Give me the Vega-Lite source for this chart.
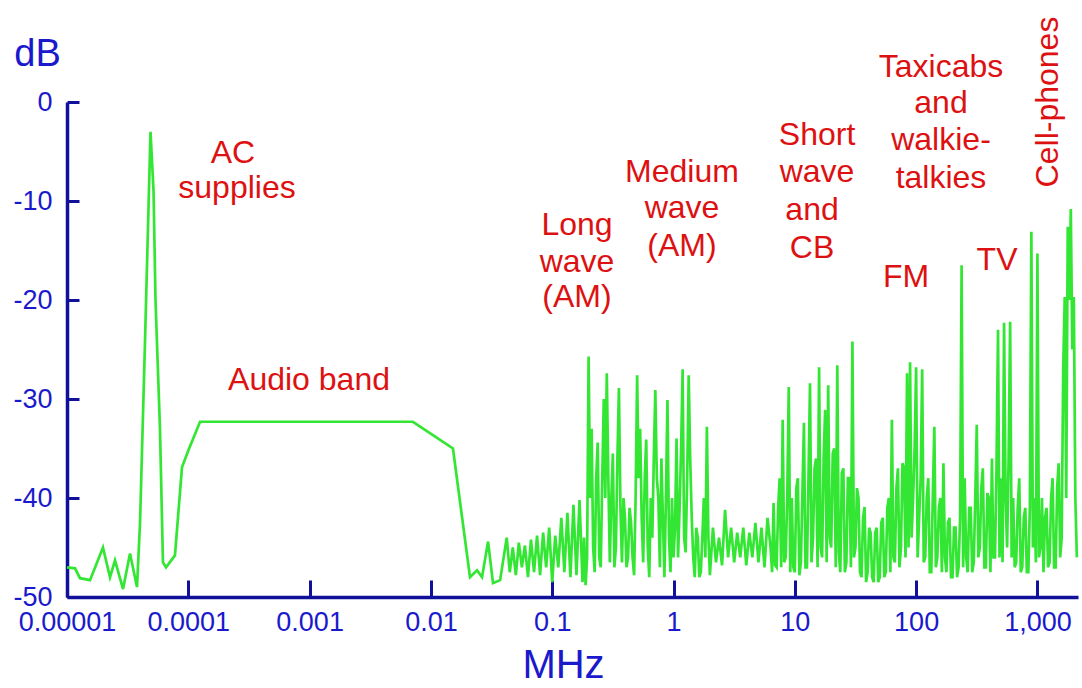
{
"$schema": "https://vega.github.io/schema/vega-lite/v6.json",
"width": 1011, "height": 495,
"autosize": "none",
"padding": {"left": 67, "top": 102, "right": 4, "bottom": 91},
"background": "white",
"config": {"view": {"stroke": null}, "font": "Liberation Sans"},
"datasets": {
"spec": [
{"f":0.00001,"db":-47},{"f":0.00001164,"db":-47.1},{"f":0.0000128,"db":-48.1},{"f":0.00001548,"db":-48.3},
{"f":0.0000198,"db":-45},{"f":0.00002262,"db":-48},{"f":0.00002488,"db":-46.3},{"f":0.00002897,"db":-49.2},
{"f":0.00003307,"db":-45.6},{"f":0.00003776,"db":-49},{"f":0.00004,"db":-42.5},{"f":0.000044,"db":-24},
{"f":0.0000488,"db":-3},{"f":0.0000517,"db":-9},{"f":0.00005365,"db":-20},{"f":0.0000584,"db":-33},
{"f":0.0000618,"db":-46.5},{"f":0.0000655,"db":-47},{"f":0.0000776,"db":-45.8},{"f":0.0000887,"db":-36.9},
{"f":0.0001,"db":-35.2},{"f":0.000125,"db":-32.3},{"f":0.00711,"db":-32.3},{"f":0.0152,"db":-35},
{"f":0.021,"db":-48},{"f":0.024,"db":-47.3},{"f":0.0264,"db":-48},{"f":0.0296,"db":-44.4},
{"f":0.0325,"db":-48.6},{"f":0.0372,"db":-48.3},
{"f":0.04217,"db":-44},{"f":0.04467,"db":-47.5},{"f":0.04732,"db":-45},{"f":0.05012,"db":-47.8},
{"f":0.05309,"db":-44.5},{"f":0.05623,"db":-47},{"f":0.05957,"db":-44.8},{"f":0.0631,"db":-48},
{"f":0.06683,"db":-44.2},{"f":0.07079,"db":-47.5},{"f":0.07499,"db":-43.8},{"f":0.07943,"db":-47.8},
{"f":0.08414,"db":-43.5},{"f":0.08913,"db":-47},{"f":0.09441,"db":-43},
{"f":0.1,"db":-48.5},{"f":0.1059,"db":-43.8},{"f":0.1122,"db":-47},{"f":0.1189,"db":-42},
{"f":0.1259,"db":-47.5},{"f":0.1334,"db":-41.5},{"f":0.1413,"db":-48},{"f":0.1496,"db":-40.7},
{"f":0.1585,"db":-47.8},{"f":0.1679,"db":-40.2},{"f":0.1778,"db":-48.5},{"f":0.183,"db":-44},{"f":0.1884,"db":-48.8},{"f":0.1939,"db":-46},
{"f":0.1995,"db":-25.7},{"f":0.2054,"db":-40},{"f":0.2113,"db":-33},{"f":0.2175,"db":-45},{"f":0.2239,"db":-47.5},{"f":0.2304,"db":-38},{"f":0.2371,"db":-34.4},{"f":0.2441,"db":-46},
{"f":0.2512,"db":-47},{"f":0.2586,"db":-38},{"f":0.2661,"db":-30},{"f":0.2738,"db":-40},{"f":0.2818,"db":-27.4},{"f":0.2901,"db":-38},{"f":0.2985,"db":-46.5},{"f":0.3073,"db":-40},
{"f":0.3162,"db":-35.5},{"f":0.3255,"db":-47},{"f":0.335,"db":-45},{"f":0.3447,"db":-36},{"f":0.3548,"db":-28.9},{"f":0.3652,"db":-41},{"f":0.3758,"db":-46.5},{"f":0.3868,"db":-40},
{"f":0.3981,"db":-42},{"f":0.4097,"db":-47},{"f":0.4217,"db":-46},{"f":0.434,"db":-41},{"f":0.4467,"db":-42.5},{"f":0.4597,"db":-46},{"f":0.4732,"db":-47.8},{"f":0.487,"db":-40},
{"f":0.5012,"db":-27.6},{"f":0.5158,"db":-38},{"f":0.5309,"db":-33},{"f":0.5464,"db":-42},{"f":0.5623,"db":-46.5},{"f":0.5788,"db":-38},{"f":0.5957,"db":-34.1},{"f":0.6131,"db":-45},
{"f":0.631,"db":-48},{"f":0.6494,"db":-40},{"f":0.6683,"db":-44},{"f":0.6879,"db":-36},{"f":0.7079,"db":-29.1},{"f":0.7286,"db":-38},{"f":0.7499,"db":-40},{"f":0.7718,"db":-47},
{"f":0.7943,"db":-36},{"f":0.8175,"db":-42},{"f":0.8414,"db":-48},{"f":0.866,"db":-40},{"f":0.8913,"db":-30.1},{"f":0.9173,"db":-44},{"f":0.9441,"db":-47.5},{"f":0.9716,"db":-40},
{"f":1,"db":-46},{"f":1.029,"db":-43},{"f":1.059,"db":-34},{"f":1.09,"db":-46},{"f":1.122,"db":-41},{"f":1.155,"db":-35},{"f":1.189,"db":-27},{"f":1.223,"db":-44},
{"f":1.259,"db":-45.5},{"f":1.296,"db":-38},{"f":1.334,"db":-27.6},{"f":1.372,"db":-36},{"f":1.413,"db":-42},{"f":1.454,"db":-46},{"f":1.496,"db":-48},{"f":1.54,"db":-43},
{"f":1.585,"db":-44},{"f":1.631,"db":-48},{"f":1.679,"db":-47.5},{"f":1.728,"db":-44},{"f":1.778,"db":-40},{"f":1.83,"db":-46},{"f":1.884,"db":-32.8},{"f":1.939,"db":-44},
{"f":1.995,"db":-47.8},{"f":2.113,"db":-43},{"f":2.239,"db":-46.5},{"f":2.371,"db":-44},
{"f":2.512,"db":-46.8},{"f":2.661,"db":-41.2},{"f":2.818,"db":-46},{"f":2.985,"db":-43},
{"f":3.162,"db":-46.5},{"f":3.35,"db":-43.5},{"f":3.548,"db":-46},{"f":3.758,"db":-43},
{"f":3.981,"db":-46.8},{"f":4.217,"db":-43.5},{"f":4.467,"db":-46},{"f":4.732,"db":-42.5},
{"f":5.012,"db":-46.5},{"f":5.309,"db":-43},{"f":5.623,"db":-47},{"f":5.957,"db":-42},
{"f":6.31,"db":-45},{"f":6.494,"db":-47.5},{"f":6.683,"db":-40.5},{"f":6.879,"db":-46.8},{"f":7.079,"db":-47},{"f":7.286,"db":-41},{"f":7.499,"db":-38},{"f":7.718,"db":-47},
{"f":7.943,"db":-32.1},{"f":8.175,"db":-46.5},{"f":8.414,"db":-46},{"f":8.66,"db":-40},{"f":8.913,"db":-28.8},{"f":9.173,"db":-47.5},{"f":9.441,"db":-40},{"f":9.716,"db":-47},
{"f":10,"db":-47.5},{"f":10.29,"db":-39},{"f":10.59,"db":-38},{"f":10.9,"db":-47.8},{"f":11.22,"db":-46.5},{"f":11.55,"db":-39.5},{"f":11.89,"db":-32.4},{"f":12.23,"db":-47},
{"f":12.59,"db":-47},{"f":12.96,"db":-38},{"f":13.34,"db":-28.4},{"f":13.72,"db":-46.5},{"f":14.13,"db":-44},{"f":14.54,"db":-37},{"f":14.96,"db":-36},{"f":15.4,"db":-47},
{"f":15.85,"db":-26.8},{"f":16.31,"db":-45},{"f":16.79,"db":-46},{"f":17.28,"db":-36},{"f":17.78,"db":-31.1},{"f":18.3,"db":-46.5},{"f":18.84,"db":-28.6},{"f":19.39,"db":-44},
{"f":19.95,"db":-45},{"f":20.54,"db":-35.5},{"f":21.13,"db":-35},{"f":21.75,"db":-47},{"f":22.39,"db":-26.6},{"f":23.04,"db":-45.5},{"f":23.71,"db":-47.5},{"f":24.41,"db":-37.5},
{"f":25.12,"db":-37},{"f":25.86,"db":-47.5},{"f":26.61,"db":-46.5},{"f":27.38,"db":-38},{"f":28.18,"db":-38},{"f":29.01,"db":-47},{"f":29.85,"db":-24.2},{"f":30.73,"db":-46},
{"f":31.62,"db":-45},{"f":32.55,"db":-39},{"f":33.5,"db":-40},{"f":34.47,"db":-47.5},{"f":35.48,"db":-48},{"f":36.52,"db":-42},{"f":37.58,"db":-40.9},{"f":38.68,"db":-48.5},
{"f":39.81,"db":-47.5},{"f":40.97,"db":-43},{"f":42.17,"db":-43.5},{"f":43.4,"db":-48},{"f":44.67,"db":-48.5},{"f":45.97,"db":-43.5},{"f":47.32,"db":-43},{"f":48.7,"db":-48.5},
{"f":50.12,"db":-48},{"f":51.58,"db":-42.5},{"f":53.09,"db":-42},{"f":54.64,"db":-48},{"f":56.23,"db":-47.5},{"f":57.88,"db":-41},{"f":59.57,"db":-40},{"f":61.31,"db":-47.5},
{"f":63.1,"db":-32.1},{"f":64.94,"db":-46},{"f":66.83,"db":-46.5},{"f":68.79,"db":-39},{"f":70.79,"db":-37},{"f":72.86,"db":-47},{"f":74.99,"db":-45},{"f":77.18,"db":-36.5},
{"f":79.43,"db":-36.9},{"f":81.75,"db":-46},{"f":84.14,"db":-27.4},{"f":86.6,"db":-45},{"f":89.13,"db":-26.3},{"f":91.73,"db":-44},{"f":94.41,"db":-40},{"f":97.16,"db":-35},
{"f":100,"db":-26.8},{"f":102.9,"db":-46},{"f":105.9,"db":-42},{"f":109,"db":-38},{"f":112.2,"db":-27},{"f":115.5,"db":-46.5},{"f":118.9,"db":-46},{"f":122.3,"db":-40},
{"f":125.9,"db":-38},{"f":129.6,"db":-47.5},{"f":133.4,"db":-47.5},{"f":137.2,"db":-40},{"f":141.3,"db":-32.8},{"f":145.4,"db":-47},{"f":149.6,"db":-46},{"f":154,"db":-41},
{"f":158.5,"db":-40},{"f":163.1,"db":-47.5},{"f":167.9,"db":-36.5},{"f":172.8,"db":-46},{"f":177.8,"db":-47.5},{"f":183,"db":-42.5},{"f":188.4,"db":-42},{"f":193.9,"db":-48},
{"f":199.5,"db":-48},{"f":205.4,"db":-43},{"f":211.3,"db":-43},{"f":217.5,"db":-48},{"f":223.9,"db":-47},{"f":230.4,"db":-42},{"f":237.1,"db":-16.5},{"f":244.1,"db":-47},
{"f":251.2,"db":-38},{"f":258.6,"db":-46},{"f":266.1,"db":-47.5},{"f":273.8,"db":-41},{"f":281.8,"db":-41},{"f":290.1,"db":-47.5},{"f":298.5,"db":-46.5},{"f":307.3,"db":-40},
{"f":316.2,"db":-32.6},{"f":325.5,"db":-46},{"f":335,"db":-45},{"f":344.7,"db":-39},{"f":354.8,"db":-37},{"f":365.2,"db":-47},{"f":375.8,"db":-47},{"f":386.8,"db":-39.5},
{"f":398.1,"db":-40},{"f":409.7,"db":-47.5},{"f":421.7,"db":-36},{"f":434,"db":-46},{"f":446.7,"db":-46},{"f":459.7,"db":-37},{"f":473.2,"db":-23},{"f":487,"db":-46},
{"f":501.2,"db":-38},{"f":515.8,"db":-46.5},{"f":530.9,"db":-22.3},{"f":546.4,"db":-40},{"f":562.3,"db":-45},{"f":578.8,"db":-36},{"f":595.7,"db":-22.2},{"f":613.1,"db":-46},
{"f":631,"db":-40},{"f":649.4,"db":-47},{"f":668.3,"db":-46.5},{"f":687.9,"db":-41},{"f":707.9,"db":-38},{"f":728.6,"db":-47.5},{"f":749.9,"db":-47},{"f":771.8,"db":-42},
{"f":794.3,"db":-41},{"f":817.5,"db":-47.5},{"f":841.4,"db":-47.5},{"f":866,"db":-41},{"f":891.3,"db":-13.1},{"f":917.3,"db":-45},{"f":944.1,"db":-40},{"f":971.6,"db":-46.5},
{"f":1000,"db":-15.3},{"f":1029,"db":-46},{"f":1059,"db":-45},{"f":1090,"db":-40},{"f":1122,"db":-47.5},{"f":1155,"db":-42},{"f":1189,"db":-41},{"f":1223,"db":-47},
{"f":1259,"db":-46.5},{"f":1296,"db":-40},{"f":1334,"db":-38},{"f":1372,"db":-47},{"f":1413,"db":-47},{"f":1454,"db":-39},{"f":1496,"db":-36.5},{"f":1540,"db":-46},
{"f":1585,"db":-44},{"f":1631,"db":-27},{"f":1679,"db":-19.7},{"f":1728,"db":-40},{"f":1778,"db":-12.6},{"f":1830,"db":-20},{"f":1884,"db":-10.8},{"f":1939,"db":-25},
{"f":1995,"db":-19.7},{"f":2054,"db":-40},{"f":2113,"db":-46}
],
"notes": [
{"f":0.0002335,"db":-6.16,"t":"AC"},
{"f":0.000252,"db":-9.7,"t":"supplies"},
{"f":0.000989,"db":-29.09,"t":"Audio band"},
{"f":0.1601,"db":-13.43,"t":"Long"},
{"f":0.1601,"db":-17.17,"t":"wave"},
{"f":0.1601,"db":-20.7,"t":"(AM)"},
{"f":1.175,"db":-8.08,"t":"Medium"},
{"f":1.175,"db":-11.72,"t":"wave"},
{"f":1.175,"db":-15.6,"t":"(AM)"},
{"f":15.24,"db":-4.34,"t":"Short"},
{"f":15.24,"db":-8.08,"t":"wave"},
{"f":13.87,"db":-11.92,"t":"and"},
{"f":13.87,"db":-15.76,"t":"CB"},
{"f":160.3,"db":2.53,"t":"Taxicabs"},
{"f":160.3,"db":-1.11,"t":"and"},
{"f":160.3,"db":-4.85,"t":"walkie-"},
{"f":160.3,"db":-8.69,"t":"talkies"},
{"f":82.6,"db":-18.69,"t":"FM"},
{"f":464.5,"db":-16.97,"t":"TV"},
{"f":1222,"db":0,"t":"Cell-phones"}
]
},
"layer": [
{
"data": {"name": "spec"},
"mark": {"type": "line", "color": "#33e633", "strokeWidth": 2.7, "clip": false},
"encoding": {
"x": {"field": "f", "type": "quantitative",
 "scale": {"type": "log", "domain": [0.00001, 2160], "nice": false},
 "axis": {"values": [0.00001, 0.0001, 0.001, 0.01, 0.1, 1, 10, 100, 1000], "format": ",~f",
  "title": "MHz", "titleFontSize": 40, "titleFontWeight": "normal", "titleColor": "#1a1acc",
  "titleX": 496, "titleY": 80, "titleAlign": "center", "titleBaseline": "alphabetic", "titleAnchor": null,
  "labelFontSize": 27, "labelColor": "#1a1acc", "labelPadding": 29, "labelFlush": false, "labelOverlap": false,
  "tickSize": -17, "tickWidth": 3, "tickColor": "#10109a", "domainColor": "#10109a", "domainWidth": 3.5, "grid": false}},
"y": {"field": "db", "type": "quantitative",
 "scale": {"domain": [-50, 0], "nice": false, "zero": false},
 "axis": {"values": [-50, -40, -30, -20, -10, 0], "labelExpr": "datum.value + ''",
  "title": "dB", "titleAngle": 0, "titleX": -30, "titleY": -37, "titleAlign": "center", "titleBaseline": "alphabetic",
  "titleFontSize": 38, "titleFontWeight": "normal", "titleColor": "#1a1acc",
  "labelFontSize": 27, "labelColor": "#1a1acc", "labelPadding": 27,
  "tickSize": -12, "tickWidth": 3, "tickColor": "#10109a", "domainColor": "#10109a", "domainWidth": 3.5, "grid": false}}
}
},
{
"data": {"name": "notes"},
"transform": [{"filter": "datum.t !== 'Cell-phones'"}],
"mark": {"type": "text", "color": "#dd1111", "fontSize": 32, "align": "center", "baseline": "alphabetic", "clip": false},
"encoding": {
"x": {"field": "f", "type": "quantitative"},
"y": {"field": "db", "type": "quantitative"},
"text": {"field": "t"}
}
},
{
"data": {"name": "notes"},
"transform": [{"filter": "datum.t === 'Cell-phones'"}],
"mark": {"type": "text", "color": "#dd1111", "fontSize": 32, "align": "center", "baseline": "middle", "angle": 270, "clip": false},
"encoding": {
"x": {"field": "f", "type": "quantitative"},
"y": {"field": "db", "type": "quantitative"},
"text": {"field": "t"}
}
}
]
}
